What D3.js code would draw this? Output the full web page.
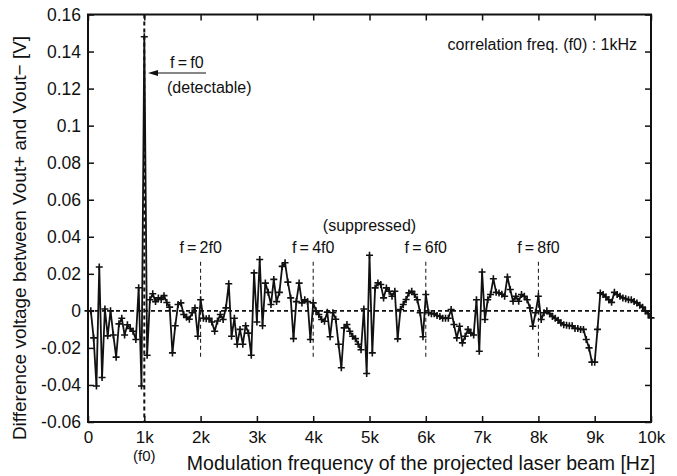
<!DOCTYPE html>
<html><head><meta charset="utf-8">
<script src="https://cdn.jsdelivr.net/npm/d3@7"></script>
<style>
html,body{margin:0;padding:0;background:#fff;}
text{font-family:"Liberation Sans",Arial,Helvetica,sans-serif;fill:#111;}
</style></head>
<body><svg id="c" width="677" height="476"></svg>
<script>
// Frequency step of measurement (Hz)
const freqStep = 50;
// Measured difference voltage [V] at 0, 50, 100, ... 10000 Hz
const voltages = [
 0.000, 0.000,-0.0146,-0.0406,0.0237,-0.036,0.001,-0.0135,0.000,-0.013,
 -0.025,-0.007,-0.004,-0.013,-0.0075,-0.0095,-0.011,-0.0155,0.0125,-0.0406,
 0.148,-0.024,0.006,0.0092,0.005,0.007,0.0062,0.0082,0.0045,0.002,
 -0.0227,-0.008,0.0034,0.0043,-0.002,-0.0035,-0.0045,-0.001,0.0016,-0.0137,
 0.006,-0.004,-0.0042,-0.004,-0.006,-0.011,-0.0055,-0.002,-0.0047,0.0016,
 0.0146,-0.0137,-0.004,-0.018,-0.010,-0.018,-0.008,-0.012,-0.024,0.0205,
 -0.006,0.0277,-0.008,0.015,0.010,0.0034,0.017,0.005,0.010,0.024,
 0.026,0.0155,0.007,-0.015,0.005,0.015,0.0043,0.006,0.005,-0.0155,
 0.0043,0.000,-0.002,-0.0047,-0.0056,-0.0007,-0.014,-0.001,-0.0045,-0.018,
 -0.0307,-0.0092,-0.0074,-0.011,-0.0137,-0.015,-0.018,-0.021,0.001,-0.0338,
 0.030,-0.0227,0.0124,0.0151,0.0142,0.007,0.0124,0.0106,0.0079,0.0106,
 -0.0151,0.0007,0.0034,0.0061,0.0097,0.0106,0.0088,0.006,-0.001,-0.014,
 0.0088,-0.001,-0.0015,-0.0015,-0.0025,-0.003,-0.004,-0.004,-0.004,0.0007,
 -0.0074,-0.0146,-0.0083,-0.0173,-0.0137,-0.010,-0.012,-0.013,0.006,-0.0218,
 0.021,-0.0047,0.006,0.0088,0.0173,0.010,0.0097,0.009,0.0079,0.0183,
 0.0115,0.0052,0.0079,0.0052,0.0088,0.0079,0.006,0.0016,-0.0083,-0.001,
 0.0079,-0.0047,-0.001,0.000,-0.0015,-0.003,-0.004,-0.005,-0.0065,-0.0075,
 -0.0078,-0.008,-0.008,-0.0095,-0.0095,-0.010,-0.010,-0.0155,-0.020,-0.0277,
 -0.0277,-0.010,0.0097,0.0088,0.0075,0.006,0.0046,0.010,0.0088,0.0079,
 0.007,0.0065,0.006,0.006,0.005,0.0043,0.003,0.002,0.000,-0.0015,
 -0.0038
];
const xTicks = [0,1000,2000,3000,4000,5000,6000,7000,8000,9000,10000];
const xTickLabels = ["0","1k","2k","3k","4k","5k","6k","7k","8k","9k","10k"];
const yTicks = [-0.06,-0.04,-0.02,0,0.02,0.04,0.06,0.08,0.1,0.12,0.14,0.16];
const yTickLabels = ["-0.06","-0.04","-0.02","0","0.02","0.04","0.06","0.08","0.1","0.12","0.14","0.16"];
const harmonics = [2000,4000,6000,8000];
const harmonicLabels = ["f\u2009=\u20092f0","f\u2009=\u20094f0","f\u2009=\u20096f0","f\u2009=\u20098f0"];

const data = voltages.map((v,i)=>({f:i*freqStep, v}));

const L=88, R=651, T=14.5, B=422;
const svg = d3.select("#c");
const x = d3.scaleLinear().domain([0,10000]).range([L,R]);
const y = d3.scaleLinear().domain([-0.06,0.16]).range([B,T]);

// zero dashed line
svg.append("line").attr("x1",L).attr("x2",R).attr("y1",y(0)).attr("y2",y(0))
  .attr("stroke","#111").attr("stroke-width",1.7).attr("stroke-dasharray","4,3");
// f0 dashed vertical
svg.append("line").attr("x1",x(1000)).attr("x2",x(1000)).attr("y1",T).attr("y2",B)
  .attr("stroke","#111").attr("stroke-width",2).attr("stroke-dasharray","4,3");
// harmonic thin dashed lines
svg.selectAll(".hl").data(harmonics).enter().append("line")
  .attr("x1",d=>x(d)).attr("x2",d=>x(d)).attr("y1",y(0.0265)).attr("y2",y(-0.0254))
  .attr("stroke","#111").attr("stroke-width",1).attr("stroke-dasharray","4,3");
svg.selectAll(".ht").data(harmonics).enter().append("text")
  .attr("x",d=>x(d)).attr("y",y(0.0314)).attr("text-anchor","middle")
  .attr("font-size",16).text((d,i)=>harmonicLabels[i]);
svg.append("text").attr("x",x(5000)).attr("y",y(0.0432)).attr("text-anchor","middle")
  .attr("font-size",16).text("(suppressed)");

// data line
svg.append("path").datum(data)
  .attr("d",d3.line().x(d=>x(d.f)).y(d=>y(d.v)))
  .attr("fill","none").attr("stroke","#111").attr("stroke-width",1.8).attr("stroke-linejoin","round");
// markers
svg.selectAll(".mk").data(data).enter().append("path")
  .attr("transform",d=>`translate(${x(d.f)},${y(d.v)})`)
  .attr("d","M-3.5,0H3.5M0,-3.5V3.5").attr("stroke","#111").attr("stroke-width",1.6);

// frame
svg.append("rect").attr("x",L).attr("y",T).attr("width",R-L).attr("height",B-T)
  .attr("fill","none").attr("stroke","#111").attr("stroke-width",2);

// axes (inward ticks)
const tl = 6;
const fontFam = "Liberation Sans,Arial,sans-serif";
svg.append("g").attr("transform",`translate(0,${B})`)
  .call(d3.axisBottom(x).tickValues(xTicks).tickSize(-tl).tickPadding(9).tickFormat((d,i)=>xTickLabels[i]))
  .call(g=>{g.select(".domain").remove();g.selectAll("line").attr("stroke","#111").attr("stroke-width",1.5);
    g.selectAll("text").attr("font-size",17).attr("fill","#111").attr("font-family",fontFam);});
svg.append("g").attr("transform",`translate(0,${T})`)
  .call(d3.axisTop(x).tickValues(xTicks).tickSize(-tl).tickFormat(""))
  .call(g=>{g.select(".domain").remove();g.selectAll("line").attr("stroke","#111").attr("stroke-width",1.5);});
svg.append("g").attr("transform",`translate(${L},0)`)
  .call(d3.axisLeft(y).tickValues(yTicks).tickSize(-tl).tickPadding(7).tickFormat((d,i)=>yTickLabels[i]))
  .call(g=>{g.select(".domain").remove();g.selectAll("line").attr("stroke","#111").attr("stroke-width",1.5);
    g.selectAll("text").attr("font-size",17.5).attr("fill","#111").attr("font-family",fontFam);});
svg.append("g").attr("transform",`translate(${R},0)`)
  .call(d3.axisRight(y).tickValues(yTicks).tickSize(-tl).tickFormat(""))
  .call(g=>{g.select(".domain").remove();g.selectAll("line").attr("stroke","#111").attr("stroke-width",1.5);});

// (f0) under 1k
svg.append("text").attr("x",x(1000)).attr("y",461).attr("text-anchor","middle").attr("font-size",15).text("(f0)");

// axis titles
svg.append("text").attr("x",421).attr("y",470).attr("text-anchor","middle").attr("font-size",19.5)
  .text("Modulation frequency of the projected laser beam [Hz]");
svg.append("text").attr("transform","translate(26,238) rotate(-90)").attr("text-anchor","middle").attr("font-size",19)
  .text("Difference voltage between Vout+ and Vout\u2212 [V]");

// annotations
svg.append("text").attr("x",637).attr("y",50).attr("text-anchor","end").attr("font-size",16)
  .text("correlation freq. (f0) : 1kHz");
svg.append("text").attr("x",170).attr("y",68).attr("font-size",16).text("f\u2009=\u2009f0");
svg.append("text").attr("x",167).attr("y",93).attr("font-size",16).text("(detectable)");
// arrow
const ay = 73;
svg.append("line").attr("x1",206).attr("x2",156).attr("y1",ay).attr("y2",ay)
  .attr("stroke","#111").attr("stroke-width",1.2);
svg.append("path").attr("d",`M148,${ay}L158,${ay-3}L158,${ay+3}Z`).attr("fill","#111");
</script></body></html>
